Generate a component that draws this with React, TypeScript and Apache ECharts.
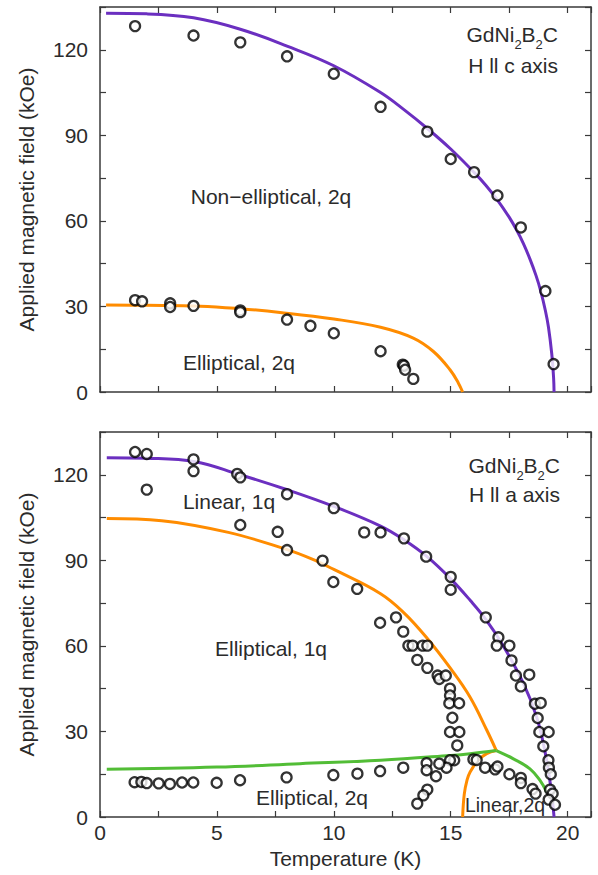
import React, { useEffect, useRef } from "react";
import * as echarts from "echarts";

// ---------- Data (Temperature K, Field kOe) ----------
// Top panel: H || c axis
const topUpperCurve: number[][] = [
  [0.26, 132.8], [2, 132.6], [4, 131.2], [6, 127.2], [8, 121.3], [10, 114.4], [12, 105],
  [13, 99], [14, 92.4], [15, 85.2], [16, 77], [16.5, 72.5], [17, 67.3], [17.5, 61.3],
  [17.82, 56.8], [18.1, 52.2], [18.39, 46.6], [18.65, 40.8], [18.85, 35.4], [19.05, 28.5],
  [19.18, 22.8], [19.32, 13.5], [19.4, 5], [19.42, 0],
];
const topLowerCurve: number[][] = [
  [0.26, 30.5], [2, 30.4], [4.28, 30.1], [6, 29.2], [7.7, 27.9], [10, 25.6],
  [12, 22.7], [13.4, 18.9], [14.26, 14.2], [14.97, 7.8], [15.33, 3.1], [15.51, 0],
];
const topUpperPoints: number[][] = [
  [1.5, 128.3], [4, 125], [6, 122.6], [8, 117.7], [10, 111.6], [12, 100],
  [14, 91.3], [15, 81.7], [16, 77.1], [17, 68.9], [18, 57.7], [19.05, 35.4], [19.4, 9.8],
];
const topLowerPoints: number[][] = [
  [1.5, 32.2], [1.8, 31.8], [3, 31.1], [3, 29.8], [4, 30.2], [6, 28.6], [6, 28.0],
  [8, 25.4], [9, 23.2], [10, 20.6], [12, 14.3], [12.95, 9.6], [13.0, 9.2], [13.05, 7.8], [13.4, 4.6],
];

// Bottom panel: H || a axis
const botUpperCurve: number[][] = [
  [0.29, 126.0], [2, 125.8], [4.06, 124.6], [5.92, 120.2], [7.91, 115], [10, 108.9],
  [12, 102.0], [13, 97.2], [14, 91.2], [15, 83.5], [15.83, 76], [16.5, 69.3], [17.25, 60],
  [18.1, 47], [18.67, 35.2], [19.03, 23], [19.29, 10], [19.42, 0],
];
const botOrangeUpper: number[][] = [
  [0.29, 104.7], [2.64, 103.9], [5.49, 99.8], [7.91, 94.0], [9.05, 90.5], [10, 86.8],
  [12, 78.3], [13, 71.6], [14, 62.6], [15, 52], [15.83, 42], [16.54, 30.5], [16.95, 23.3],
];
const botOrangeLower: number[][] = [
  [15.51, 0], [15.58, 8], [15.7, 13], [15.83, 15.8], [16.18, 19.9], [16.54, 22.2], [16.95, 23.3],
];
const botGreenLeft: number[][] = [
  [0.29, 16.7], [5, 17.5], [8.55, 18.7], [12, 19.9], [15, 21.6], [15.83, 22.2], [16.95, 23.3],
];
const botGreenRight: number[][] = [
  [16.95, 23.3], [17.68, 20.4], [18.39, 16.9], [18.82, 12.8], [19.1, 8.8],
];
const botPoints: number[][] = [
  // upper boundary
  [1.5, 128.0], [2.0, 127.3], [2.0, 114.8], [4.0, 125.4], [4.0, 121.3], [5.87, 120.3], [6.0, 119.1],
  [8.0, 113.2], [10.0, 108.3], [11.3, 99.8], [12.0, 99.8], [13.0, 97.7], [13.95, 91.3],
  [15.0, 84.2], [15.0, 79.7], [16.5, 70.0], [17.04, 63.0], [16.97, 60.1], [17.51, 60.1],
  [17.6, 54.9], [17.79, 49.6], [18.36, 49.9], [18.0, 45.8], [18.6, 39.7], [18.85, 40.0],
  [18.72, 34.7], [18.79, 29.8], [19.19, 29.8], [18.96, 24.8], [19.18, 19.9], [19.2, 17.3],
  [19.28, 15.0], [19.25, 9.6], [19.36, 8.2], [19.19, 6.1], [19.46, 4.3],
  // 1q boundary
  [6.0, 102.4], [7.6, 100.0], [8.0, 93.6], [9.52, 89.9], [9.98, 82.4], [11.0, 80.0],
  [11.98, 68.1], [12.66, 70.0], [12.97, 65.0], [13.19, 60.1], [13.37, 60.1], [13.8, 60.1],
  [14.0, 60.1], [13.57, 55.1], [14.0, 52.3], [14.44, 49.6], [14.51, 48.4], [14.79, 49.6],
  [14.97, 45.0], [14.97, 42.6], [14.94, 39.9], [15.36, 39.9], [15.07, 34.8], [14.97, 29.8],
  [15.37, 29.8], [15.28, 25.1], [15.15, 19.9], [14.97, 19.9], [14.82, 17.3], [14.51, 18.7],
  [13.97, 18.9], [13.97, 16.4], [14.37, 14.3], [14.0, 9.6], [13.83, 7.6], [13.57, 4.7],
  // 2q lower boundary
  [1.48, 12.2], [1.77, 12.3], [2.0, 11.9], [2.51, 11.8], [2.99, 11.6], [3.51, 12.1],
  [3.99, 12.1], [4.99, 12.0], [5.99, 12.9], [7.98, 13.9], [9.98, 14.7], [11.01, 15.2],
  [11.98, 16.1], [12.97, 17.3], [15.97, 20.2], [16.11, 20.0], [16.47, 17.3], [16.9, 16.7],
  [17.0, 17.7], [17.51, 15.0], [18.0, 13.7], [18.0, 11.9], [18.5, 9.8], [18.63, 8.2],
];

const X_MIN = 0, X_MAX = 21, X_STEP = 2.5, X_LABEL_STEP = 5;
const Y_MIN = 0, Y_MAX = 135, Y_STEP = 15, Y_LABEL_STEP = 30;

const FONT = '"Liberation Sans", Arial, Helvetica, sans-serif';
const TEXT = "#2b2b2b";
const AXIS = "#3a3a3a";
const PURPLE = "#6b2fc0";
const ORANGE = "#ff8c00";
const GREEN = "#52bd36";

function xAxis(gridIndex: number, position: string, labels: boolean, name?: string) {
  return {
    type: "value", gridIndex, position, min: X_MIN, max: X_MAX, interval: X_STEP,
    axisLine: { show: true, onZero: false, lineStyle: { color: AXIS, width: 1.5 } },
    axisTick: { show: true, inside: true, length: 6, lineStyle: { color: AXIS, width: 1.2 } },
    axisLabel: {
      show: labels, margin: 5, fontSize: 21, color: TEXT, fontFamily: FONT,
      formatter: (v: number) => (Math.abs(v % X_LABEL_STEP) < 1e-9 ? String(v) : ""),
    },
    splitLine: { show: false },
    name: name || "", nameLocation: "middle", nameGap: 31,
    nameTextStyle: { fontSize: 21, color: TEXT, fontFamily: FONT },
  };
}
function yAxis(gridIndex: number, position: string, labels: boolean, name?: string) {
  return {
    type: "value", gridIndex, position, min: Y_MIN, max: Y_MAX, interval: Y_STEP,
    axisLine: { show: true, onZero: false, lineStyle: { color: AXIS, width: 1.5 } },
    axisTick: { show: true, inside: true, length: 6, lineStyle: { color: AXIS, width: 1.2 } },
    axisLabel: {
      show: labels, margin: 12, fontSize: 21, color: TEXT, fontFamily: FONT,
      formatter: (v: number) => (Math.abs(v % Y_LABEL_STEP) < 1e-9 ? String(v) : ""),
    },
    splitLine: { show: false },
    name: name || "", nameLocation: "middle", nameGap: 63,
    nameTextStyle: { fontSize: 21, color: TEXT, fontFamily: FONT },
  };
}

function lineSeries(data: number[][], color: string, xi: number, yi: number) {
  return {
    type: "line", data, xAxisIndex: xi, yAxisIndex: yi, showSymbol: false, symbol: "none",
    smooth: 0.4, lineStyle: { color, width: 3 }, z: 2, silent: true,
  };
}
function scatterSeries(data: number[][], xi: number, yi: number) {
  return {
    type: "scatter", data, xAxisIndex: xi, yAxisIndex: yi, symbol: "circle", symbolSize: 10,
    itemStyle: { color: "#ffffff", borderColor: "#000000", borderWidth: 2.3 }, z: 5,
  };
}

function label(text: string, x: number, y: number, align = "center", size = 21) {
  return {
    type: "text", x, y, z: 10,
    style: { text, fontSize: size, fontFamily: FONT, fill: TEXT, align, verticalAlign: "middle" },
  };
}
function formula(x: number, y: number) {
  return {
    type: "text", x, y, z: 10,
    style: {
      text: "{m|GdNi}{s|2}{m|B}{s|2}{m|C}",
      align: "right", verticalAlign: "middle", fontFamily: FONT, fill: TEXT,
      rich: {
        m: { fontSize: 21, lineHeight: 33, verticalAlign: "middle", fontFamily: FONT, fill: TEXT },
        s: { fontSize: 13, lineHeight: 33, verticalAlign: "bottom", fontFamily: FONT, fill: TEXT },
      },
    },
  };
}

export default function App() {
  const ref = useRef<HTMLDivElement>(null);
  useEffect(() => {
    if (!ref.current) return;
    const chart = echarts.init(ref.current, null, { renderer: "svg" });
    chart.setOption({
      animation: false,
      backgroundColor: "#ffffff",
      grid: [
        { left: 100, top: 7, width: 491, height: 385 },
        { left: 100, top: 432, width: 491, height: 385 },
      ],
      xAxis: [
        xAxis(0, "bottom", false), xAxis(0, "top", false),
        xAxis(1, "bottom", true, "Temperature (K)"), xAxis(1, "top", false),
      ],
      yAxis: [
        yAxis(0, "left", true, "Applied magnetic field (kOe)"), yAxis(0, "right", false),
        yAxis(1, "left", true, "Applied magnetic field (kOe)"), yAxis(1, "right", false),
      ],
      series: [
        lineSeries(topUpperCurve, PURPLE, 0, 0),
        lineSeries(topLowerCurve, ORANGE, 0, 0),
        scatterSeries(topUpperPoints, 0, 0),
        scatterSeries(topLowerPoints, 0, 0),
        lineSeries(botUpperCurve, PURPLE, 2, 2),
        lineSeries(botOrangeUpper, ORANGE, 2, 2),
        lineSeries(botOrangeLower, ORANGE, 2, 2),
        lineSeries(botGreenLeft, GREEN, 2, 2),
        lineSeries(botGreenRight, GREEN, 2, 2),
        scatterSeries(botPoints, 2, 2),
      ],
      graphic: [
        label("Non\u2212elliptical, 2q", 271, 196),
        label("Elliptical, 2q", 239, 362),
        formula(558, 34),
        label("H ll c axis", 558, 65, "right"),
        formula(560, 465),
        label("H ll a axis", 560, 494, "right"),
        label("Linear, 1q", 229, 501),
        label("Elliptical, 1q", 271, 648),
        label("Elliptical, 2q", 312, 797),
        label("Linear,2q", 505, 805, "center", 19.5),
      ],
    });
    return () => chart.dispose();
  }, []);
  return (
    <div
      ref={ref}
      style={{ position: "fixed", left: 0, top: 0, width: 598, height: 875, background: "#fff" }}
    />
  );
}
